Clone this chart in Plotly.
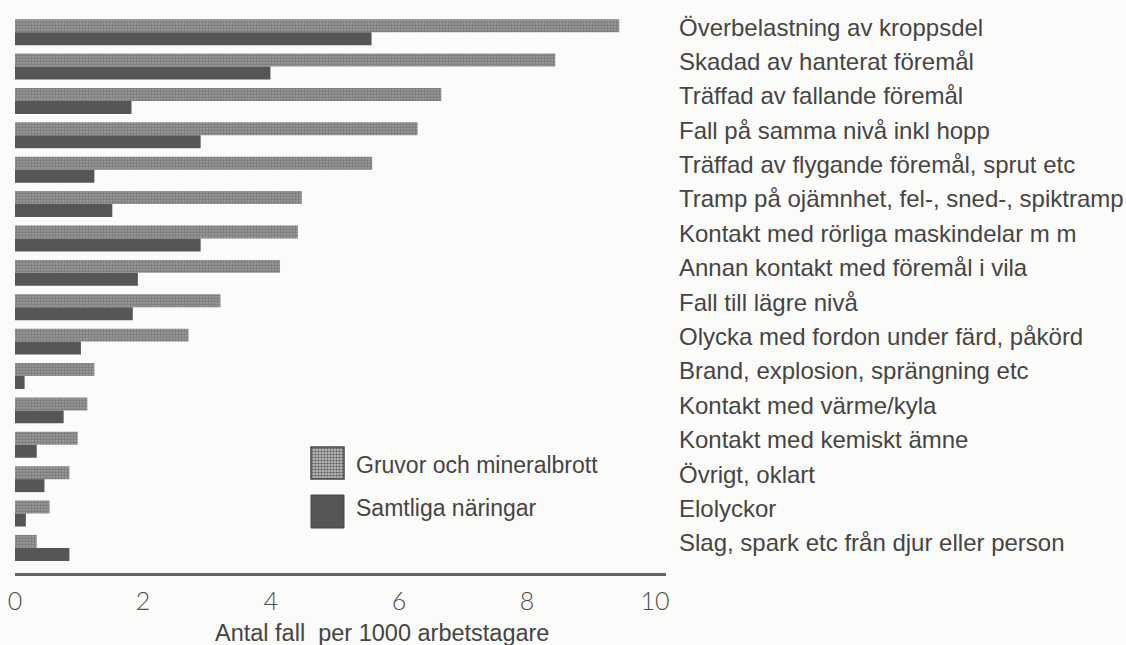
import plotly.graph_objects as go

categories = [
    "Överbelastning av kroppsdel",
    "Skadad av hanterat föremål",
    "Träffad av fallande föremål",
    "Fall på samma nivå inkl hopp",
    "Träffad av flygande föremål, sprut etc",
    "Tramp på ojämnhet, fel-, sned-, spiktramp",
    "Kontakt med rörliga maskindelar m m",
    "Annan kontakt med föremål i vila",
    "Fall till lägre nivå",
    "Olycka med fordon under färd, påkörd",
    "Brand, explosion, sprängning etc",
    "Kontakt med värme/kyla",
    "Kontakt med kemiskt ämne",
    "Övrigt, oklart",
    "Elolyckor",
    "Slag, spark etc från djur eller person",
]
gruvor = [9.44, 8.44, 6.66, 6.29, 5.58, 4.48, 4.42, 4.14, 3.21, 2.71, 1.24, 1.13, 0.98, 0.85, 0.54, 0.34]
samtliga = [5.57, 3.99, 1.82, 2.90, 1.24, 1.52, 2.90, 1.92, 1.84, 1.03, 0.15, 0.76, 0.34, 0.46, 0.17, 0.85]
series_names = ["Gruvor och mineralbrott", "Samtliga näringar"]
x_ticks = [0, 2, 4, 6, 8, 10]
x_title = "Antal fall  per 1000 arbetstagare"

W, H = 1126, 645
L, R, T, B = 15, 666, 15, 573  # plot area in pixels
TEXT = "#474444"
DARK = "#575555"
HATCH_BG = "#aaaaaa"
HATCH_FG = "#505050"


def px(x):
    return (x - L) / (R - L)


def py(y):
    return (B - y) / (B - T)


fig = go.Figure()
fig.add_trace(go.Bar(
    y=categories, x=gruvor, orientation="h", name=series_names[0],
    marker=dict(color=HATCH_BG, line_width=0,
                pattern=dict(shape=".", size=3, solidity=0.7, fgcolor=HATCH_FG)),
    showlegend=False,
))
fig.add_trace(go.Bar(
    y=categories, x=samtliga, orientation="h", name=series_names[1],
    marker=dict(color=DARK, line_width=0),
    showlegend=False,
))

# custom legend with large swatches
checker = ("data:image/svg+xml;utf8,<svg xmlns='http://www.w3.org/2000/svg' width='33' height='32'>"
           "<defs><pattern id='p' width='3' height='3' patternUnits='userSpaceOnUse'>"
           "<rect width='3' height='3' fill='%23b8b8b8'/><circle cx='1.5' cy='1.5' r='1.1' fill='%23585858'/>"
           "</pattern></defs><rect width='33' height='32' fill='url(%23p)'/></svg>")
fig.add_layout_image(dict(source=checker, xref="paper", yref="paper",
                          x=px(311), y=py(447), sizex=px(344) - px(311), sizey=py(447) - py(479),
                          xanchor="left", yanchor="top", sizing="stretch", layer="above"))
fig.add_shape(type="rect", xref="paper", yref="paper",
              x0=px(311), x1=px(344), y0=py(479), y1=py(447),
              line=dict(color="#4a4747", width=1.5), fillcolor="rgba(0,0,0,0)")
fig.add_shape(type="rect", xref="paper", yref="paper",
              x0=px(311), x1=px(344), y0=py(528), y1=py(495),
              line=dict(color="#4a4747", width=1), fillcolor=DARK)
for name, yc in zip(series_names, [465, 508]):
    fig.add_annotation(text=name, xref="paper", yref="paper", x=px(354), y=py(yc),
                       xanchor="left", yanchor="middle", showarrow=False,
                       font=dict(family="Liberation Sans", size=23, color=TEXT))

fig.add_annotation(text=x_title, xref="paper", yref="paper", x=px(382), y=py(633),
                   xanchor="center", yanchor="middle", showarrow=False,
                   font=dict(family="Liberation Sans", size=23.5, color=TEXT))

fig.update_layout(
    width=W, height=H,
    margin=dict(l=L, r=W - R, t=T, b=H - B),
    paper_bgcolor="#fbfbf9", plot_bgcolor="#fbfbf9",
    barmode="group", bargap=0.245, bargroupgap=0,
)
fig.update_xaxes(
    range=[0, 10.17], tickvals=x_ticks, showgrid=False, zeroline=False,
    showline=True, linecolor="#66626b", linewidth=2.5, ticks="",
    ticklabelstandoff=4, automargin=False,
    tickfont=dict(family="Lato", weight=300, size=25, color="#4e4c4c"),
)
fig.update_yaxes(
    range=[15.73, -0.5], side="right", showgrid=False, zeroline=False,
    showline=False, ticks="", ticklabelstandoff=12, ticklabelshift=5,
    automargin=False,
    tickfont=dict(family="Liberation Sans", size=24, color=TEXT),
)

fig.write_html("out.html", config={"displayModeBar": False},
               post_script="document.body.style.margin='0';")
